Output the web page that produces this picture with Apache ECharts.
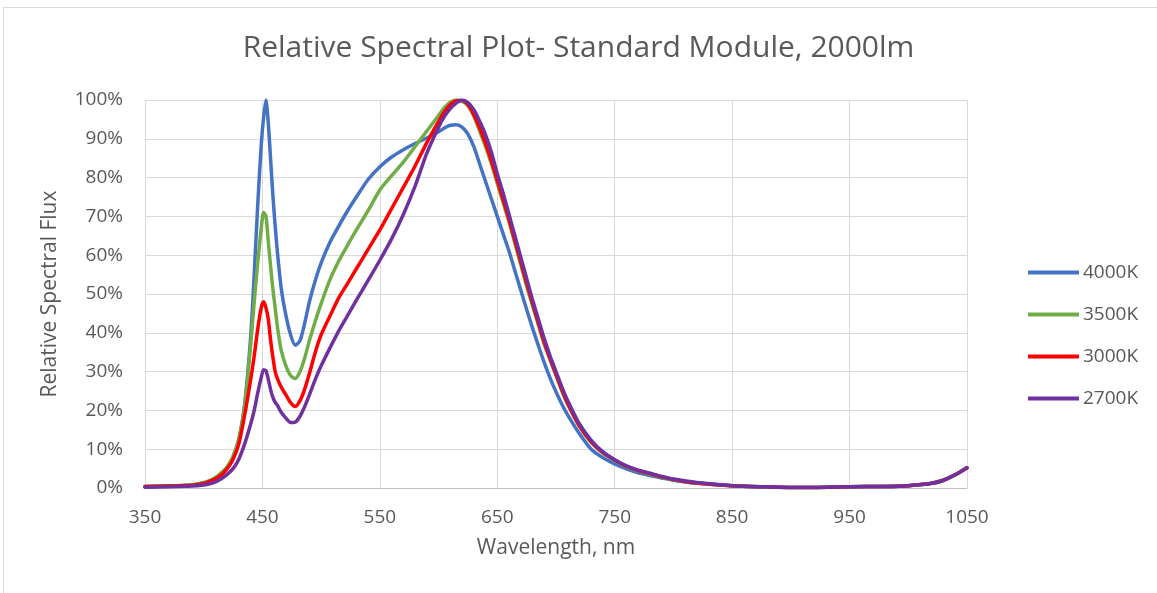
<!DOCTYPE html>
<html>
<head>
<meta charset="utf-8">
<script src="https://cdn.jsdelivr.net/npm/echarts@6/dist/echarts.min.js"></script>
<style>
  html, body { margin: 0; padding: 0; background: #ffffff; }
  #frame { position: absolute; left: 3px; top: 7px; width: 1200px; height: 700px;
           border-top: 1px solid #D9D9D9; border-left: 1px solid #D9D9D9; }
  #chart { position: absolute; left: 0; top: 0; width: 1157px; height: 593px; }
</style>
</head>
<body>
<div id="frame"></div>
<div id="chart"></div>
<script>
const titleText = 'Relative Spectral Plot- Standard Module, 2000lm';
const xAxisName = 'Wavelength, nm';
const yAxisName = 'Relative Spectral Flux';
const seriesNames = ['4000K', '3500K', '3000K', '2700K'];
const seriesColors = ['#4472C4', '#70AD47', '#FF0000', '#7030A0'];

const wavelengths = [350, 370, 390, 400, 405, 410, 415, 420, 425, 430,
  435, 440, 443, 446, 449, 451, 453, 455, 457, 459,
  461, 463, 466, 470, 474, 478, 482, 486, 490, 495,
  500, 507, 515, 522, 530, 540, 550, 560, 570, 580,
  590, 600, 605, 610, 615, 620, 625, 630, 635, 640,
  645, 650, 655, 660, 665, 670, 675, 680, 685, 690,
  695, 700, 705, 710, 720, 730, 740, 750, 760, 770,
  780, 790, 800, 820, 850, 880, 900, 920, 950, 980,
  1000, 1020, 1030, 1040, 1050];

const flux4000K = [0.4, 0.5, 0.8, 1.3, 1.8, 2.6, 3.7, 5.3, 7.8, 12.5,
  22, 39, 55, 73, 88.5, 95.5, 100, 94, 84.5, 75,
  67, 60, 51.5, 44.5, 39.5, 36.8, 38, 42.5, 48, 53.5,
  58, 63, 67.5, 71.2, 75, 79.5, 82.8, 85.3, 87.2, 88.8,
  90.2, 91.8, 92.8, 93.5, 93.6, 93, 91.2, 88, 83.5, 79,
  74.5, 70, 65.5, 61, 56, 51, 46, 41.2, 36.7, 32.3,
  28.3, 24.8, 21.6, 18.8, 14, 10, 7.8, 6.2, 4.9, 3.9,
  3.2, 2.6, 2.0, 1.2, 0.6, 0.3, 0.15, 0.15, 0.35, 0.4,
  0.6, 1.2, 2, 3.4, 5.2];

const flux3500K = [0.4, 0.5, 0.8, 1.4, 1.9, 2.7, 3.9, 5.5, 8.2, 12.8,
  21.5, 37, 48, 58, 67, 71, 70, 63.5, 57, 51,
  46, 41, 35.5, 31.5, 29, 28.2, 30, 33.5, 38, 43,
  47.5, 53.3, 58.5, 62.3, 66.5, 71.5, 76.8, 80.5, 84, 88,
  92, 96, 98, 99.4, 100, 99.7, 98.5, 95.8, 92, 88,
  83.5, 78.5, 73.5, 68.5, 63, 57.5, 52, 47, 42, 37,
  33, 29, 25, 21.5, 15.8, 11.7, 9, 7.1, 5.5, 4.4,
  3.6, 2.8, 2.1, 1.3, 0.6, 0.3, 0.15, 0.15, 0.35, 0.4,
  0.6, 1.2, 2, 3.4, 5.2];

const flux3000K = [0.4, 0.5, 0.7, 1.2, 1.7, 2.4, 3.4, 5, 7.4, 11.5,
  19, 28, 34, 41, 46.5, 48, 46.5, 43.5, 38, 33.5,
  29.8, 28, 26, 24, 22, 21, 22.5, 25.5, 29.5, 35,
  39.5, 44, 49, 52.5, 56.5, 61.5, 66.5, 72, 77.5, 83,
  89, 94.5, 97, 98.8, 99.8, 99.9, 98.8, 96.3, 92.8, 88.8,
  84.3, 79.3, 74.3, 69.2, 63.8, 58.3, 52.8, 47.6, 42.5, 37.5,
  33.3, 29.3, 25.3, 21.8, 16, 11.9, 9.1, 7.2, 5.6, 4.5,
  3.7, 2.9, 2.2, 1.3, 0.6, 0.3, 0.15, 0.15, 0.35, 0.4,
  0.6, 1.2, 2, 3.4, 5.2];

const flux2700K = [0.2, 0.3, 0.5, 0.8, 1.1, 1.6, 2.4, 3.5, 5, 7.5,
  11.5, 16.5, 20, 24.5, 28.5, 30.5, 30.2, 28, 25.3, 23.3,
  22, 21.2, 19.5, 18, 16.9, 17, 18.5, 21, 24, 28,
  31.5, 35.8, 40.5, 44.2, 48.4, 53.5, 58.7, 64.2, 70.5, 77.8,
  86.3, 93, 95.8, 97.8, 99.2, 100, 99.3, 97.5, 94.5, 91,
  86.5, 81, 76, 70.5, 65, 59.5, 54, 48.5, 43.5, 38.5,
  34, 30, 26, 22.5, 16.5, 12.3, 9.3, 7.3, 5.7, 4.6,
  3.8, 3.0, 2.3, 1.4, 0.6, 0.3, 0.15, 0.15, 0.35, 0.4,
  0.6, 1.2, 2, 3.4, 5.2];

const fluxSets = [flux4000K, flux3500K, flux3000K, flux2700K];

const FONT = '"Open Sans", "Noto Sans", sans-serif';
const TXT = '#595959';

const chart = echarts.init(document.getElementById('chart'), null, { renderer: 'canvas' });

const series = seriesNames.map((name, i) => ({
  name: name,
  type: 'line',
  data: wavelengths.map((w, k) => [w, fluxSets[i][k]]),
  showSymbol: false,
  symbol: 'none',
  smooth: 0.25,
  lineStyle: { color: seriesColors[i], width: 3.5, cap: 'round', join: 'round' },
  itemStyle: { color: seriesColors[i] },
  emphasis: { disabled: true },
  z: 2 + i
}));

chart.setOption({
  animation: false,
  color: seriesColors,
  title: {
    text: titleText,
    left: 'center',
    top: 28,
    padding: [5, 0, 5, 12],
    textStyle: { fontFamily: FONT, fontSize: 30, fontWeight: 'normal', color: TXT }
  },
  legend: {
    orient: 'vertical',
    left: 1028,
    top: 262,
    padding: 0,
    itemWidth: 51,
    itemHeight: 4,
    itemGap: 21,
    icon: 'rect',
    textStyle: { fontFamily: FONT, fontSize: 19, color: TXT, lineHeight: 21, padding: [0, 0, 0, -1] },
    data: seriesNames
  },
  grid: { left: 145, right: 190, top: 100, bottom: 105, containLabel: false },
  xAxis: {
    type: 'value',
    min: 350,
    max: 1050,
    interval: 50,
    name: xAxisName,
    nameLocation: 'middle',
    nameGap: 50,
    nameTextStyle: { fontFamily: FONT, fontSize: 21, color: TXT },
    axisLine: { show: true, lineStyle: { color: '#BFBFBF', width: 1 } },
    axisTick: { show: false },
    axisLabel: {
      margin: 20,
      fontFamily: FONT, fontSize: 19, color: TXT,
      formatter: v => ((v - 350) % 100 === 0 ? String(v) : '')
    },
    splitLine: { show: true, lineStyle: { color: ['#D9D9D9', 'rgba(0,0,0,0)'], width: 1 } }
  },
  yAxis: {
    type: 'value',
    min: 0,
    max: 100,
    interval: 10,
    name: yAxisName,
    nameLocation: 'middle',
    nameRotate: 90,
    nameGap: 84,
    nameTextStyle: { fontFamily: FONT, fontSize: 21, color: TXT },
    axisLine: { show: false },
    axisTick: { show: false },
    axisLabel: { margin: 22, fontFamily: FONT, fontSize: 19, color: TXT, formatter: '{value}%' },
    splitLine: { show: true, lineStyle: { color: '#D9D9D9', width: 1 } }
  },
  series: series
});
</script>
</body>
</html>
